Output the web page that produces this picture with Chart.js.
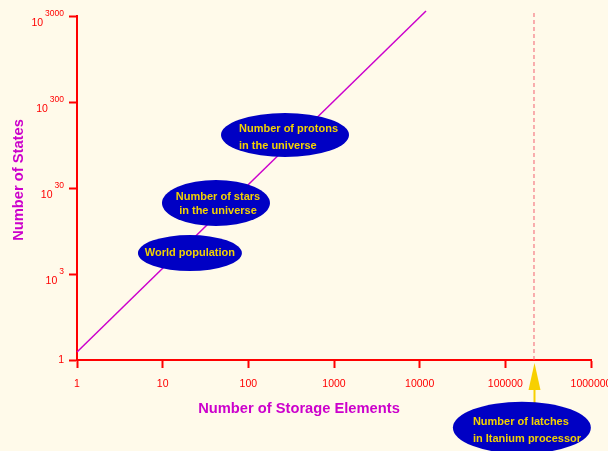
<!DOCTYPE html>
<html>
<head>
<meta charset="utf-8">
<script src="https://cdn.jsdelivr.net/npm/chart.js@4"></script>
<style>
  html, body { margin: 0; padding: 0; background: #fffaea; }
  #wrap { width: 608px; height: 451px; }
</style>
</head>
<body>
<div id="wrap"><canvas id="statesChart" width="608" height="451"></canvas></div>
<script>
// storage elements vs. number of states (y values are log10 of the state count)
const storageElements = [1, 11860];
const stateExponents  = [0.372, 3430];

// latch count of the Itanium processor, drawn as a vertical marker
const latchX = [216000, 216000];
const latchY = [0.3, 3430];

const xTicks = [1, 10, 100, 1000, 10000, 100000, 1000000];
const yTicks = [0.3, 3, 30, 300, 3000];
const yTickExponents = ['', '3', '30', '300', '3000'];

// callouts: text and where they sit (data units)
const noteText = [
  ['Number of protons', 'in the universe'],
  ['Number of stars', 'in the universe'],
  ['World population'],
  ['Number of latches', 'in Itanium processor']
];
const noteX = [268, 41.9, 20.8, 156000];
const noteY = [124, 20.1, 5.26, 0.049];

const xTitle = 'Number of Storage Elements';
const yTitle = 'Number of States';

const FONT = "'Liberation Sans', Arial, Helvetica, sans-serif";
const RED = '#ff0000';
const MAGENTA = '#cc00cc';
const BLUE = '#0000c4';
const GOLD = '#f2d200';

Chart.defaults.font.family = FONT;

// ellipse size / text layout per callout
const noteStyle = [
  { rx: 64, ry: 22, align: 'left',   dx: -46, lines: [-6, 11] },
  { rx: 54, ry: 23, align: 'center', dx: 2,   lines: [-6, 8] },
  { rx: 52, ry: 18, align: 'center', dx: 0,   lines: [0] },
  { rx: 69, ry: 26, align: 'left',   dx: -49, lines: [-6, 11] }
];

const decorations = {
  id: 'decorations',
  afterDatasetsDraw(chart) {
    const { ctx, scales: { x, y } } = chart;
    ctx.save();

    // y tick labels as 10 with superscript exponent
    ctx.fillStyle = RED;
    ctx.textAlign = 'right';
    ctx.textBaseline = 'middle';
    yTicks.forEach((v, i) => {
      const py = y.getPixelForValue(v);
      const exp = yTickExponents[i];
      if (!exp) {
        ctx.font = '10.5px ' + FONT;
        ctx.fillText('1', 64, py);
        return;
      }
      ctx.font = '8.5px ' + FONT;
      ctx.fillText(exp, 64, py - 2);
      const w = ctx.measureText(exp).width;
      ctx.font = '10.5px ' + FONT;
      ctx.fillText('10', 64 - w - 2, py + 7);
    });

    // axis titles, set a little off the plot centre
    ctx.fillStyle = MAGENTA;
    ctx.font = 'bold 14.7px ' + FONT;
    ctx.textAlign = 'center';
    ctx.textBaseline = 'middle';
    ctx.fillText(xTitle, (x.left + x.right) / 2 - 35, y.bottom + 49);
    ctx.save();
    ctx.translate(18.5, (y.top + y.bottom) / 2 - 8);
    ctx.rotate(-Math.PI / 2);
    ctx.fillText(yTitle, 0, 0);
    ctx.restore();

    // arrow from the latch callout up to the axis
    const ax = Math.round(x.getPixelForValue(latchX[0])) + 0.5;
    const base = y.bottom;
    ctx.fillStyle = '#f7d000';
    ctx.fillRect(ax - 1, base + 28, 2, 25);
    ctx.beginPath();
    ctx.moveTo(ax, base + 3);
    ctx.lineTo(ax - 6, base + 30);
    ctx.lineTo(ax + 6, base + 30);
    ctx.closePath();
    ctx.fill();

    // blue callout ellipses
    noteText.forEach((lines, i) => {
      const st = noteStyle[i];
      const cx = x.getPixelForValue(noteX[i]);
      const cy = y.getPixelForValue(noteY[i]);
      ctx.fillStyle = BLUE;
      ctx.beginPath();
      ctx.ellipse(cx, cy, st.rx, st.ry, 0, 0, Math.PI * 2);
      ctx.fill();
      ctx.fillStyle = GOLD;
      ctx.font = 'bold 11px ' + FONT;
      ctx.textAlign = st.align;
      ctx.textBaseline = 'middle';
      lines.forEach((t, j) => ctx.fillText(t, cx + st.dx, cy + st.lines[j]));
    });
    ctx.restore();
  }
};

new Chart(document.getElementById('statesChart'), {
  type: 'line',
  data: {
    datasets: [
      {
        data: storageElements.map((v, i) => ({ x: v, y: stateExponents[i] })),
        borderColor: MAGENTA, borderWidth: 1.5, pointRadius: 0, clip: false
      },
      {
        data: latchX.map((v, i) => ({ x: v, y: latchY[i] })),
        borderColor: '#f26070', borderWidth: 1, borderDash: [4, 3], pointRadius: 0, clip: false
      }
    ]
  },
  options: {
    responsive: false,
    animation: false,
    events: [],
    layout: { padding: { top: 16, right: 17, left: 0, bottom: 0 } },
    plugins: { legend: { display: false }, tooltip: { enabled: false } },
    scales: {
      x: {
        type: 'logarithmic', min: 1, max: 1000000,
        afterBuildTicks: s => { s.ticks = xTicks.map(v => ({ value: v })); },
        afterFit: s => { s.height = 91; s.paddingLeft = 0; s.paddingRight = 0; },
        border: { color: RED, width: 2 },
        grid: { drawOnChartArea: false, drawTicks: true, tickLength: 8, tickWidth: 2, color: RED },
        ticks: {
          color: RED, font: { size: 10.5 }, padding: 10, maxRotation: 0, autoSkip: false,
          callback: v => String(v)
        }
      },
      y: {
        type: 'logarithmic', min: 0.3, max: 3000,
        afterBuildTicks: s => { s.ticks = yTicks.map(v => ({ value: v })); },
        afterFit: s => { s.width = 77; s.paddingTop = 0; s.paddingBottom = 0; },
        border: { color: RED, width: 2 },
        grid: { drawOnChartArea: false, drawTicks: true, tickLength: 8, tickWidth: 2, color: RED },
        ticks: { display: false }
      }
    }
  },
  plugins: [decorations]
});
</script>
</body>
</html>
